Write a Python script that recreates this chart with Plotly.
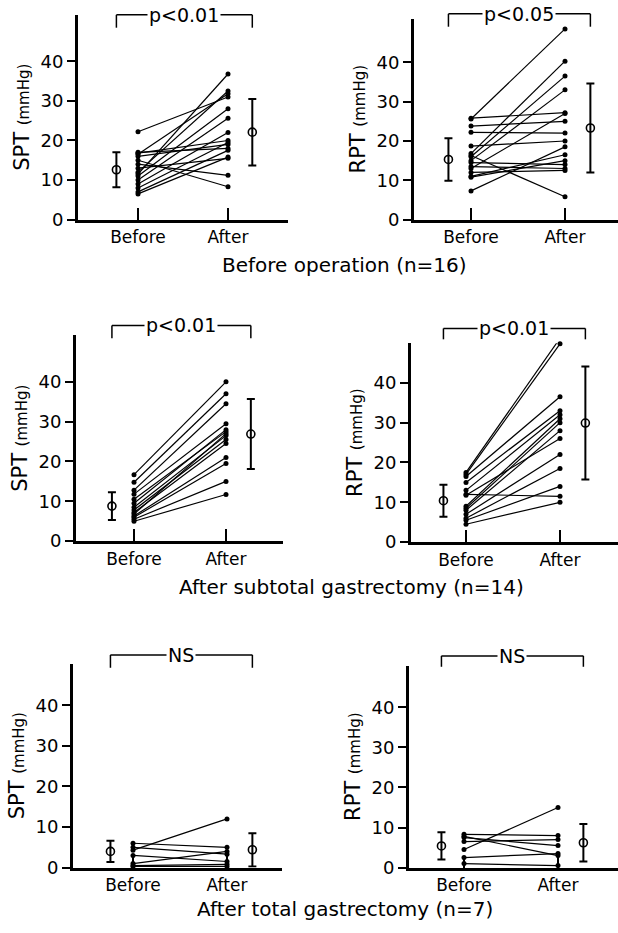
import plotly.graph_objects as go

W, H = 618, 933
FONT = "DejaVu Sans"

# ---------------- data (mmHg) ----------------
categories = ["Before", "After"]
tick_vals_y = [0, 10, 20, 30, 40]

# Before operation (n=16)
op_spt_before = [22.2, 17.0, 16.8, 16.5, 16.0, 15.0, 14.0, 13.0, 12.0, 11.5, 11.0, 10.0, 9.0, 8.0, 7.0, 6.5]
op_spt_after = [31.0, 18.0, 20.0, 31.8, 19.0, 8.3, 11.2, 15.5, 32.5, 36.8, 28.0, 25.6, 22.0, 19.5, 17.5, 15.8]
op_spt_mean = [12.6, 22.1]
op_spt_sd = [4.4, 8.4]

op_rpt_before = [25.6, 25.8, 23.8, 22.2, 18.7, 16.8, 16.3, 16.0, 15.0, 14.5, 13.5, 13.0, 12.0, 11.0, 10.8, 7.3]
op_rpt_after = [48.5, 27.2, 25.0, 22.0, 20.0, 40.3, 5.8, 36.5, 33.0, 14.0, 13.0, 27.0, 12.5, 16.5, 15.0, 18.5]
op_rpt_mean = [15.3, 23.3]
op_rpt_sd = [5.4, 11.3]

# After subtotal gastrectomy (n=14)
sub_spt_before = [16.7, 14.8, 12.8, 11.8, 10.5, 9.5, 8.5, 7.8, 7.2, 6.8, 6.3, 6.0, 5.5, 5.0]
sub_spt_after = [40.0, 37.0, 34.5, 29.5, 27.5, 28.0, 26.5, 25.5, 24.5, 27.0, 21.0, 19.5, 15.0, 11.7]
sub_spt_mean = [8.8, 26.9]
sub_spt_sd = [3.5, 8.8]

sub_rpt_before = [17.5, 17.0, 16.5, 15.0, 13.0, 12.0, 11.8, 9.0, 8.5, 8.0, 7.0, 6.0, 5.5, 4.5]
sub_rpt_after = [51.2, 49.8, 36.5, 33.0, 32.0, 11.5, 26.0, 31.0, 30.0, 28.0, 22.0, 18.5, 14.0, 10.0]
sub_rpt_mean = [10.4, 29.9]
sub_rpt_sd = [4.0, 14.2]

# After total gastrectomy (n=7)
tot_spt_before = [6.0, 5.0, 4.3, 3.0, 1.0, 0.5, 0.3]
tot_spt_after = [5.0, 3.3, 12.0, 1.5, 4.0, 0.8, 0.3]
tot_spt_mean = [4.0, 4.4]
tot_spt_sd = [2.6, 4.1]

tot_rpt_before = [8.3, 7.8, 7.5, 6.5, 4.5, 2.5, 1.0]
tot_rpt_after = [8.0, 3.0, 5.5, 7.0, 15.0, 3.5, 0.5]
tot_rpt_mean = [5.4, 6.2]
tot_rpt_sd = [3.4, 4.7]

sig_labels = ["p<0.01", "p<0.05", "p<0.01", "p<0.01", "NS", "NS"]
y_titles = ["SPT", "RPT", "SPT", "RPT", "SPT", "RPT"]
row_titles = ["Before operation (n=16)", "After subtotal gastrectomy (n=14)",
              "After total gastrectomy (n=7)"]

# ---------------- layout geometry (pixels) ----------------
# L,R: x-axis extent; T,B: y-axis extent; bx,ax: Before/After tick px; y40: px of 40
panels = [
    dict(L=78, R=288, T=15, B=222, bx=138, ax=228, y40=62, bt=15, bb=28,
         before=op_spt_before, after=op_spt_after, mean=op_spt_mean, sd=op_spt_sd),
    dict(L=414, R=618, T=19, B=222, bx=471, ax=565, y40=63, bt=14, bb=27,
         before=op_rpt_before, after=op_rpt_after, mean=op_rpt_mean, sd=op_rpt_sd),
    dict(L=76, R=283, T=339, B=547, bx=134, ax=226, y40=386, bt=329, bb=342,
         before=sub_spt_before, after=sub_spt_after, mean=sub_spt_mean, sd=sub_spt_sd),
    dict(L=411, R=618, T=347, B=548, bx=466, ax=560, y40=387, bt=332, bb=343,
         before=sub_rpt_before, after=sub_rpt_after, mean=sub_rpt_mean, sd=sub_rpt_sd),
    dict(L=73, R=282, T=671, B=877, bx=133, ax=227, y40=713, bt=662, bb=675,
         before=tot_spt_before, after=tot_spt_after, mean=tot_spt_mean, sd=tot_spt_sd),
    dict(L=409, R=618, T=673, B=877, bx=464, ax=558, y40=715, bt=663, bb=674,
         before=tot_rpt_before, after=tot_rpt_after, mean=tot_rpt_mean, sd=tot_rpt_sd),
]
row_title_pos = [(344, 268), (351, 593), (345, 919)]
MEAN_X = [0.76, 2.27]   # x of the mean±SD bars (Before=1, After=2)

fig = go.Figure()
shapes = []
annotations = []

for i, p in enumerate(panels):
    k = "" if i == 0 else str(i + 1)
    xa, ya = "x" + k, "y" + k
    unit = p["ax"] - p["bx"]
    xr = [1 - (p["bx"] - p["L"]) / unit, 2 + (p["R"] - p["ax"]) / unit]
    ppu = (p["B"] - p["y40"]) / 40.0
    yr = [0, (p["B"] - p["T"]) / ppu]

    # individual paired lines
    for b, a in zip(p["before"], p["after"]):
        fig.add_trace(go.Scatter(
            x=[1, 2], y=[b, a], mode="lines+markers", xaxis=xa, yaxis=ya,
            line=dict(color="black", width=1.2), cliponaxis=False,
            marker=dict(color="black", size=5), showlegend=False, hoverinfo="skip"))
    # mean ± SD
    fig.add_trace(go.Scatter(
        x=MEAN_X, y=p["mean"], mode="markers", xaxis=xa, yaxis=ya,
        marker=dict(symbol="circle-open", color="black", size=8, line=dict(width=1.6)),
        error_y=dict(type="data", array=p["sd"], color="black", thickness=2, width=4),
        cliponaxis=False, showlegend=False, hoverinfo="skip"))

    fig.layout["xaxis" + k] = dict(
        domain=[p["L"] / W, p["R"] / W], range=xr, anchor=ya,
        showline=True, linewidth=3, linecolor="black", showgrid=False, zeroline=False,
        tickmode="array", tickvals=[1, 2], ticktext=categories,
        ticks="inside", ticklen=12, tickwidth=2, tickcolor="black",
        tickfont=dict(family=FONT, size=17, color="black"), fixedrange=True)
    fig.layout["yaxis" + k] = dict(
        domain=[1 - p["B"] / H, 1 - p["T"] / H], range=yr, anchor=xa,
        showline=True, linewidth=3, linecolor="black", showgrid=False, zeroline=False,
        tickmode="array", tickvals=tick_vals_y,
        ticks="outside", ticklen=8, tickwidth=2, tickcolor="black",
        tickfont=dict(family=FONT, size=18, color="black"),
        title=dict(text=y_titles[i] + " <span style='font-size:15px'>(mmHg)</span>",
                   font=dict(family=FONT, size=21, color="black"), standoff=6),
        fixedrange=True)

    # significance bracket
    ytop = (p["B"] - p["bt"]) / (p["B"] - p["T"])
    ybot = (p["B"] - p["bb"]) / (p["B"] - p["T"])
    x0, x1 = MEAN_X
    for (xs, ys, xe, ye) in [(x0, ybot, x0, ytop), (x0, ytop, x1, ytop), (x1, ytop, x1, ybot)]:
        shapes.append(dict(type="line", xref=xa, yref=ya + " domain",
                           x0=xs, y0=ys, x1=xe, y1=ye,
                           line=dict(color="black", width=1.5)))
    annotations.append(dict(
        x=(x0 + x1) / 2, y=ytop, xref=xa, yref=ya + " domain", text=sig_labels[i],
        showarrow=False, bgcolor="white", borderpad=1,
        font=dict(family=FONT, size=19, color="black"), xanchor="center", yanchor="middle"))

for t, (px, py) in zip(row_titles, row_title_pos):
    annotations.append(dict(
        x=px / W, y=1 - py / H, xref="paper", yref="paper", text=t, showarrow=False,
        font=dict(family=FONT, size=20, color="black"), xanchor="center", yanchor="middle"))

fig.update_layout(
    width=W, height=H, margin=dict(l=0, r=0, t=0, b=0),
    paper_bgcolor="white", plot_bgcolor="white",
    shapes=shapes, annotations=annotations, showlegend=False,
    font=dict(family=FONT, color="black"))

fig.write_html("out.html")
